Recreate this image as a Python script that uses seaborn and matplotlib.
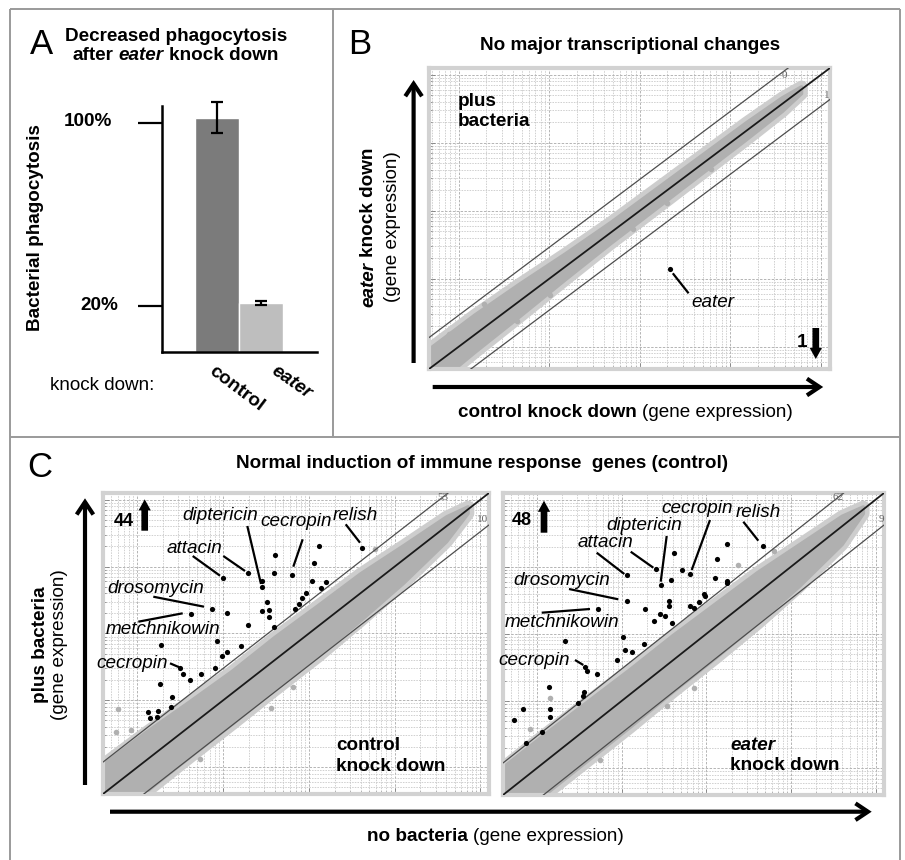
import matplotlib
matplotlib.use('Agg')
import matplotlib.pyplot as plt
from matplotlib.patches import FancyArrowPatch
from matplotlib.lines import Line2D
from matplotlib.ticker import LogLocator
import numpy as np
import seaborn as sns

sns.set_theme(style='white')
plt.rcParams['font.family'] = ['Liberation Sans', 'DejaVu Sans']

W, H, DPI = 905, 860, 100
FS = 13.6
GREY = '#b0b0b0'
HALO = '#cdcdcd'

# ---------------- data ----------------
# Panel A: bacterial phagocytosis (%)
kd_labels = ['control', 'eater']
phago_mean = [102.5, 21.5]
phago_err = [6.8, 0.8]

# Panel B (log10 expression): control kd (x) vs eater kd (y), plus bacteria
b_lim = (-2.33, 2.10)
b_fold = 2.9
b_band_x = [-2.33, -1.83, -1.33, -0.83, -0.33, 0.17, 0.67, 1.17, 1.57, 1.78]
b_band_lo = [-2.63, -2.08, -1.55, -1.01, -0.48, 0.03, 0.54, 1.05, 1.47, 1.73]
b_band_hi = [-2.03, -1.53, -1.07, -0.63, -0.17, 0.32, 0.81, 1.30, 1.67, 1.83]
b_grey_x = [-0.99, -1.36, -0.08, 0.30, -2.11, -1.72, 0.79]
b_grey_y = [-1.24, -1.63, -0.27, 0.12, -1.81, -1.37, 0.62]
b_black_x = [0.33]
b_black_y = [-0.86]

# Panel C (log10 expression): no bacteria (x) vs plus bacteria (y)
c_lim = (-2.4, 2.1)
c_fold = 3.0
c_band_x = [-2.4, -1.9, -1.4, -0.9, -0.4, 0.1, 0.6, 1.1, 1.6, 1.85]
cl_band_lo = [-2.85, -2.36, -1.85, -1.35, -0.84, -0.34, 0.20, 0.76, 1.38, 1.80]
cl_band_hi = [-1.95, -1.47, -1.02, -0.56, -0.05, 0.42, 0.90, 1.32, 1.75, 1.90]
cr_band_lo = [-2.85, -2.38, -1.88, -1.38, -0.86, -0.36, 0.16, 0.72, 1.34, 1.80]
cr_band_hi = [-1.98, -1.48, -1.00, -0.52, -0.02, 0.45, 0.92, 1.34, 1.76, 1.90]

cl_grey_x = [-2.23, -2.25, -2.07, -1.27, -0.44, -0.18, 0.77, 0.89]
cl_grey_y = [-1.13, -1.47, -1.44, -1.88, -1.12, -0.80, 1.27, 1.07]
cr_grey_x = [-1.84, -1.25, -0.15, 0.37, 0.80, -0.46, -2.08]
cr_grey_y = [-0.96, -1.88, -0.80, 1.03, 1.23, -1.08, -1.42]

cl_black_x = [-1.00, -0.71, -0.55, -0.55, -0.40, -0.41, -0.20, 0.12, 0.06, 0.04,
              0.20, 0.14, 0.62, -1.13, -0.96, -1.37, -0.71, -0.49, -0.55, -0.46,
              -0.47, -0.41, -0.03, -0.08, -0.12, -0.16, -1.07, -0.79, -0.95, -1.01,
              -1.10, -1.72, -1.50, -1.47, -1.39, -1.26, -1.74, -1.59, -1.61, -1.76,
              -1.87, -1.85, -1.77]
cl_black_y = [0.83, 0.91, 0.78, 0.70, 1.17, 0.91, 0.88, 1.31, 1.06, 0.79,
              0.77, 0.68, 1.28, 0.37, 0.30, 0.29, 0.12, 0.47, 0.34, 0.35,
              0.24, 0.09, 0.61, 0.53, 0.44, 0.36, -0.11, -0.18, -0.28, -0.34,
              -0.51, -0.17, -0.51, -0.61, -0.69, -0.61, -0.75, -0.95, -1.10, -1.16,
              -1.17, -1.27, -1.25]
cr_black_x = [-0.94, -0.59, -0.53, -0.42, -0.38, -0.29, -0.19, 0.24, 0.13, 0.10,
              0.24, 0.24, 0.67, -0.94, -1.28, -0.72, -0.44, -0.44, -0.55, -0.49,
              -0.62, -0.40, -0.19, -0.15, -0.09, -0.03, -0.01, -1.67, -0.98, -0.74,
              -0.96, -0.88, -1.05, -1.43, -1.41, -1.29, -1.86, -1.44, -1.46, -1.52,
              -2.16, -1.84, -1.85, -2.27, -1.94, -2.13]
cr_black_y = [0.88, 0.97, 0.73, 0.81, 1.20, 0.96, 0.90, 1.34, 1.11, 0.84,
              0.79, 0.76, 1.31, 0.49, 0.37, 0.37, 0.49, 0.42, 0.29, 0.26,
              0.20, 0.16, 0.41, 0.38, 0.47, 0.60, 0.56, -0.10, -0.04, -0.15,
              -0.24, -0.27, -0.39, -0.50, -0.55, -0.60, -0.79, -0.86, -0.93, -1.03,
              -1.12, -1.12, -1.24, -1.28, -1.46, -1.63]

count_up_left, count_up_right, count_down_b = '44', '48', '1'

# ---------------- helpers ----------------
fig = plt.figure(figsize=(W / DPI, H / DPI), dpi=DPI)
fig.patch.set_facecolor('white')


def add_ax(l, t, r, b):
    return fig.add_axes([l / W, 1 - b / H, (r - l) / W, (b - t) / H])


def txt(x, y, s, ha='left', va='baseline', size=FS, weight='normal', style='normal',
        rot=0, color='black', family=None):
    kw = {}
    if family:
        kw['family'] = family
    return fig.text(x / W, 1 - y / H, s, ha=ha, va=va, fontsize=size, fontweight=weight,
                    fontstyle=style, rotation=rot, color=color, rotation_mode='anchor',
                    zorder=10, **kw)


def rich(x, y, parts, ha='center', va='baseline', rot=0, size=FS):
    r = fig.canvas.get_renderer()
    ts = [txt(0, 0, s, ha='left', va=va, size=size, weight=w, style=st, rot=rot)
          for s, w, st in parts]
    lens = []
    for t in ts:
        bb = t.get_window_extent(r)
        lens.append(bb.width if rot == 0 else bb.height)
    gap = 0.278 * size * DPI / 72
    total = sum(lens) + gap * (len(ts) - 1)
    pos = -total / 2 if ha == 'center' else 0
    for t, L in zip(ts, lens):
        if rot == 0:
            t.set_position(((x + pos) / W, 1 - y / H))
        else:
            t.set_position((x / W, 1 - (y - pos) / H))
        pos += L + gap


def fline(x0, y0, x1, y1, color='black', lw=1.5):
    fig.add_artist(Line2D([x0 / W, x1 / W], [1 - y0 / H, 1 - y1 / H],
                          transform=fig.transFigure, color=color, lw=lw,
                          solid_capstyle='butt', zorder=9))


def big_arrow(x0, y0, x1, y1):
    a = FancyArrowPatch((x0 / W, 1 - y0 / H), (x1 / W, 1 - y1 / H),
                        transform=fig.transFigure,
                        arrowstyle='->,head_length=0.45,head_width=0.3',
                        mutation_scale=20, lw=3.0, color='black',
                        shrinkA=0, shrinkB=0, joinstyle='miter', capstyle='butt', zorder=9)
    fig.add_artist(a)


def small_arrow(x0, y0, x1, y1):
    a = FancyArrowPatch((x0 / W, 1 - y0 / H), (x1 / W, 1 - y1 / H),
                        transform=fig.transFigure,
                        arrowstyle='simple,head_length=1.0,head_width=1.1,tail_width=0.6',
                        mutation_scale=8, lw=0, color='black',
                        shrinkA=0, shrinkB=0, zorder=9)
    fig.add_artist(a)


def scatter_panel(ax, lim, fold, bx, blo, bhi, gx, gy, kx, ky):
    ax.set_xscale('log')
    ax.set_yscale('log')
    lo, hi = 10.0 ** lim[0], 10.0 ** lim[1]
    for axis in (ax.xaxis, ax.yaxis):
        axis.set_major_locator(LogLocator(base=10, numticks=100))
        axis.set_minor_locator(LogLocator(base=10, subs=np.arange(2, 10) * 1.0, numticks=100))
    ax.grid(True, which='major', ls=(0, (2.5, 1.5)), lw=0.7, color='#b4b4b4')
    ax.grid(True, which='minor', ls=(0, (2, 1.5)), lw=0.55, color='#c4c4c4')
    ax.set_axisbelow(True)
    bxa, bloa, bhia = 10.0 ** np.array(bx), 10.0 ** np.array(blo), 10.0 ** np.array(bhi)
    # soft halo of sparse points around the dense cloud
    ax.fill_between(bxa, bloa, bhia, facecolor=HALO, edgecolor=HALO, lw=9,
                    joinstyle='round', zorder=2)
    ax.fill_between(bxa, bloa, bhia, facecolor=GREY, edgecolor=GREY, lw=2.5,
                    joinstyle='round', zorder=2)
    sns.scatterplot(x=10.0 ** np.array(gx), y=10.0 ** np.array(gy), color=GREY, s=16,
                    linewidth=0, ax=ax, zorder=2)
    ends = np.array([lo, hi])
    for f, c, w in ((fold, '#4d4d4d', 0.9), (1 / fold, '#4d4d4d', 0.9), (1.0, '#1a1a1a', 1.3)):
        ax.plot(ends, ends * f, color=c, lw=w, zorder=3)
    sns.scatterplot(x=10.0 ** np.array(kx), y=10.0 ** np.array(ky), color='black', s=14,
                    linewidth=0, ax=ax, zorder=4)
    ax.set_xlim(lo, hi)
    ax.set_ylim(lo, hi)
    ax.tick_params(which='both', direction='in', labelbottom=False, labelleft=False,
                   bottom=True, left=True, color='#808080', width=0.6)
    ax.tick_params(which='major', length=4)
    ax.tick_params(which='minor', length=2.5)
    ax.set_xlabel('')
    ax.set_ylabel('')
    for sp in ax.spines.values():
        sp.set_color('#d2d2d2')
        sp.set_linewidth(3)


# ---------------- panel frames ----------------
BC = '#9a9a9a'
fline(10, 9, 900, 9, BC, 1.4)
fline(10, 9, 10, 860, BC, 1.4)
fline(900, 9, 900, 860, BC, 1.4)
fline(333, 9, 333, 437, BC, 1.4)
fline(10, 437, 900, 437, BC, 1.4)

# ---------------- panel A ----------------
axA = add_ax(162, 96, 317, 352)
sns.barplot(x=kd_labels, y=phago_mean, hue=kd_labels, palette=['#7b7b7b', '#bebebe'],
            width=1.0, saturation=1, legend=False, errorbar=None, ax=axA)
axA.errorbar(range(len(kd_labels)), phago_mean, yerr=phago_err, fmt='none', ecolor='black',
             elinewidth=1.6, capsize=4.3, capthick=1.6, clip_on=False, zorder=5)
axA.set_xlim(-1.25, 2.27)
axA.set_ylim(0, 112)
axA.set_facecolor('none')
for s in ('top', 'right'):
    axA.spines[s].set_visible(False)
for s in ('left', 'bottom'):
    axA.spines[s].set_color('black')
    axA.spines[s].set_linewidth(1.8)
axA.spines['left'].set_bounds(0, 107.5)
axA.set_xticks([])
axA.set_yticks([20, 100])
axA.set_yticklabels([])
axA.tick_params(axis='y', direction='out', length=17, width=1.6, color='black', left=True)
axA.set_xlabel('')
axA.set_ylabel('')

txt(30, 54, 'A', size=25)
rich(176.3, 41.2, [('Decreased phagocytosis', 'bold', 'normal')])
rich(175.5, 60, [('after', 'bold', 'normal'), ('eater', 'bold', 'italic'),
                 ('knock down', 'bold', 'normal')])
txt(36, 227.5, 'Bacterial phagocytosis', ha='center', va='center', rot=90, weight='bold')
txt(112, 121.7, '100%', ha='right', va='center', weight='bold')
txt(118, 305, '20%', ha='right', va='center', weight='bold')
txt(50, 390, 'knock down:')
txt(236.7, 388.3, kd_labels[0], ha='center', va='center', rot=-37, weight='bold')
txt(291.7, 382.7, kd_labels[1], ha='center', va='center', rot=-35, weight='bold', style='italic')

# ---------------- panel B ----------------
axB = add_ax(429, 68, 830, 369)
scatter_panel(axB, b_lim, b_fold, b_band_x, b_band_lo, b_band_hi,
              b_grey_x, b_grey_y, b_black_x, b_black_y)
txt(348.3, 54, 'B', size=25)
rich(630.3, 50.5, [('No major transcriptional changes', 'bold', 'normal')])
txt(457.6, 106, 'plus', weight='bold')
txt(457.6, 126, 'bacteria', weight='bold')
txt(691.7, 307.3, 'eater', style='italic')
fline(672.8, 273.3, 688.6, 293.3, lw=1.6)
txt(796.4, 346.7, count_down_b, weight='bold')
small_arrow(815.8, 328, 815.8, 359)
txt(784, 76, '0', ha='center', va='center', size=8, color='#666666', family='Liberation Serif')
txt(826.8, 95, '1', ha='center', va='center', size=8, color='#666666', family='Liberation Serif')
big_arrow(413.6, 363, 413.6, 80)
big_arrow(432.7, 387, 823.2, 387)
rich(368.5, 227.5, [('eater', 'bold', 'italic'), ('knock down', 'bold', 'normal')],
     va='center', rot=90)
txt(392.4, 226.5, '(gene expression)', ha='center', va='center', rot=90)
rich(625.2, 417.3, [('control knock down', 'bold', 'normal'),
                    ('(gene expression)', 'normal', 'normal')])

# ---------------- panel C ----------------
axCL = add_ax(103, 493, 489, 794)
scatter_panel(axCL, c_lim, c_fold, c_band_x, cl_band_lo, cl_band_hi,
              cl_grey_x, cl_grey_y, cl_black_x, cl_black_y)
axCR = add_ax(503, 493, 884, 795)
scatter_panel(axCR, c_lim, c_fold, c_band_x, cr_band_lo, cr_band_hi,
              cr_grey_x, cr_grey_y, cr_black_x, cr_black_y)

txt(27, 476.7, 'C', size=25)
rich(481.7, 468.5, [('Normal induction of immune response  genes (control)', 'bold', 'normal')])
big_arrow(85, 785, 85, 498.3)
big_arrow(110, 811.7, 871.7, 811.7)
txt(40.5, 645, 'plus bacteria', ha='center', va='center', rot=90, weight='bold')
txt(59, 645, '(gene expression)', ha='center', va='center', rot=90)
rich(495, 841, [('no bacteria', 'bold', 'normal'), ('(gene expression)', 'normal', 'normal')])

# left plot labels
txt(113.3, 526, count_up_left, weight='bold', size=13)
small_arrow(144.7, 530.7, 144.7, 499.3)
for s, x, y in (('diptericin', 182.7, 520), ('cecropin', 260, 526), ('relish', 333, 520),
                ('attacin', 166.7, 552.7), ('drosomycin', 107.3, 592.7),
                ('metchnikowin', 106, 634), ('cecropin', 96.7, 668.3)):
    txt(x, y, s, style='italic')
for (x0, y0), (x1, y1) in (((192.7, 556), (220, 575.7)), ((223.3, 556), (245, 571)),
                           ((247.3, 526), (261, 584)), ((302.7, 539.3), (293.3, 566.7)),
                           ((345.7, 524.3), (360, 542.7)), ((153.3, 596.7), (204, 606.7)),
                           ((138.3, 621.7), (182.7, 613.3)), ((170, 663.3), (179.3, 667.3))):
    fline(x0, y0, x1, y1, lw=1.6)
txt(336, 750, 'control', weight='bold')
txt(336, 770.7, 'knock down', weight='bold')
txt(443.3, 498, '53', ha='center', va='center', size=8, color='#666666', family='Liberation Serif')
txt(482.7, 519.7, '10', ha='center', va='center', size=8, color='#666666', family='Liberation Serif')

# right plot labels
txt(511.7, 525, count_up_right, weight='bold', size=13)
small_arrow(544, 532.7, 544, 500.7)
for s, x, y in (('cecropin', 661.7, 513.3), ('relish', 735.7, 517), ('diptericin', 606, 530),
                ('attacin', 577.3, 547.3), ('drosomycin', 513.3, 585),
                ('metchnikowin', 505, 627.3), ('cecropin', 498.3, 665)):
    txt(x, y, s, style='italic')
for (x0, y0), (x1, y1) in (((596.7, 552.7), (624.3, 574)), ((630.7, 551.7), (653.3, 567.7)),
                           ((666.7, 536), (660.7, 581.7)), ((710, 520), (691.7, 570)),
                           ((743.3, 521.7), (758.3, 540.7)), ((569, 589), (618.3, 599.3)),
                           ((541.7, 612.7), (590, 609)), ((575, 660), (583.3, 665))):
    fline(x0, y0, x1, y1, lw=1.6)
txt(730, 749.5, 'eater', weight='bold', style='italic')
txt(730, 770, 'knock down', weight='bold')
txt(838.3, 498, '62', ha='center', va='center', size=8, color='#666666', family='Liberation Serif')
txt(881, 519.7, '9', ha='center', va='center', size=8, color='#666666', family='Liberation Serif')

fig.savefig('out.png', dpi=DPI)
